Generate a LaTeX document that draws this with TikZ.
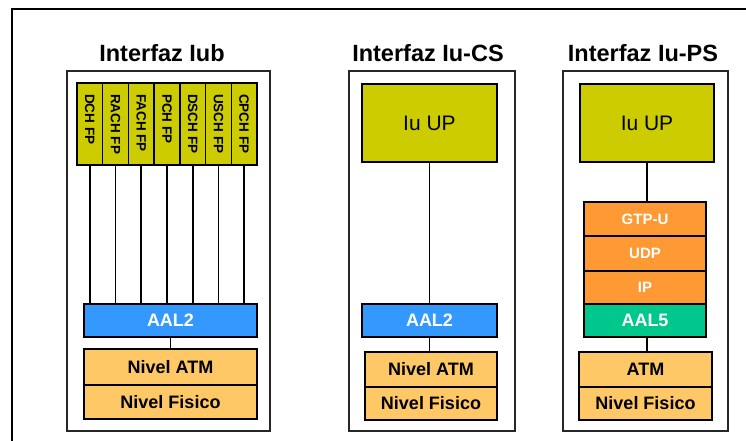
\documentclass[tikz,border=0pt]{standalone}
\usepackage{fontspec}
\setmainfont{Liberation Sans}
\definecolor{upyellow}{RGB}{204,204,0}
\definecolor{aalblue}{RGB}{51,153,255}
\definecolor{physorange}{RGB}{255,200,102}
\definecolor{iporange}{RGB}{255,153,51}
\definecolor{aalgreen}{RGB}{0,200,140}
\begin{document}
\begin{tikzpicture}[x=1pt,y=-1pt,
  panel/.style={draw=black!85,line width=1.6pt,fill=white,inner sep=0pt},
  layer/.style={draw=black,line width=1.5pt,inner sep=0pt,align=center},
  chanbox/.style={layer,fill=upyellow,minimum width=25.714pt,minimum height=82pt},
  chantext/.style={rotate=-90,anchor=west,inner sep=0pt,font=\fontsize{13.5}{13.5}\selectfont\bfseries},
  upbox/.style={layer,fill=upyellow,font=\fontsize{21}{21}\selectfont},
  aalbox/.style={layer,fill=aalblue,text=white,font=\fontsize{18}{18}\selectfont\bfseries},
  physbox/.style={layer,fill=physorange,font=\fontsize{18}{18}\selectfont\bfseries},
  ipbox/.style={layer,fill=iporange,text=white,font=\fontsize{15}{15}\selectfont\bfseries},
  greenbox/.style={layer,fill=aalgreen,text=white,font=\fontsize{18}{18}\selectfont\bfseries},
  title/.style={font=\fontsize{23.5}{23.5}\selectfont\bfseries,inner sep=0pt},
  link/.style={draw=black,line width=1.6pt}
]
\useasboundingbox (0,0) rectangle (746,441);
\fill[white] (0,0) rectangle (746,441);
% surrounding frame, open to the right and bottom
\draw[line width=2.4pt] (12,445) -- (12,9) -- (750,9);

% titles
\node[title] (tiub) at (162,53) {Interfaz Iub};
\node[title] (tcs)  at (428,53) {Interfaz Iu-CS};
\node[title] (tps)  at (643,53) {Interfaz Iu-PS};

% ---------- Iub ----------
\node[panel,minimum width=203pt,minimum height=360pt] (piub) at (168.5,251) {};
\foreach \n/\lbl [count=\i from 0] in {c1/DCH FP,c2/RACH FP,c3/FACH FP,c4/PCH FP,c5/DSCH FP,c6/USCH FP,c7/CPCH FP}{
  \node[chanbox] (\n) at ({77+25.714*(\i+0.5)},124) {};
  \node[chantext] (\n t) at ({77+25.714*(\i+0.5)},94) {\lbl};
}
\node[aalbox,minimum width=173pt,minimum height=33pt] (aiub) at (170.5,320.5) {AAL2};
\node[physbox,minimum width=173pt,minimum height=36pt] (miub) at (170.5,367) {Nivel ATM};
\node[physbox,minimum width=173pt,minimum height=34pt] (fiub) at (170.5,402) {Nivel Fisico};
\foreach \n in {c1,c2,c3,c4,c5,c6,c7}{
  \draw[link] (\n.south) -- (\n.south |- aiub.north);
}
\draw[link] (aiub.south) -- (miub.north);

% ---------- Iu-CS ----------
\node[panel,minimum width=166pt,minimum height=360pt] (pcs) at (432,251) {};
\node[upbox,minimum width=135pt,minimum height=78pt] (ucs) at (429.5,123) {Iu UP};
\node[aalbox,minimum width=135pt,minimum height=33pt] (acs) at (429.5,320.5) {AAL2};
\node[physbox,minimum width=132pt,minimum height=35pt] (mcs) at (431,369.5) {Nivel ATM};
\node[physbox,minimum width=132pt,minimum height=33pt] (fcs) at (431,403.5) {Nivel Fisico};
\draw[link] (ucs.south) -- (acs.north);
\draw[link] (acs.south) -- (acs.south |- mcs.north);

% ---------- Iu-PS ----------
\node[panel,minimum width=165pt,minimum height=360pt] (pps) at (645.5,251) {};
\node[upbox,minimum width=134pt,minimum height=78pt] (ups) at (647,123) {Iu UP};
\node[ipbox,minimum width=122pt,minimum height=34pt] (gps) at (645,219) {GTP-U};
\node[ipbox,minimum width=122pt,minimum height=35pt] (dps) at (645,253.5) {UDP};
\node[ipbox,minimum width=122pt,minimum height=33pt] (ips) at (645,287.5) {IP};
\node[greenbox,minimum width=122pt,minimum height=33pt] (aps) at (645,320.5) {AAL5};
\node[physbox,minimum width=133pt,minimum height=35pt] (mps) at (645.5,369.5) {ATM};
\node[physbox,minimum width=133pt,minimum height=33pt] (fps) at (645.5,403.5) {Nivel Fisico};
\draw[link] (ups.south) -- (ups.south |- gps.north);
\draw[link] (ups.south |- aps.south) -- (ups.south |- mps.north);
\end{tikzpicture}
\end{document}
